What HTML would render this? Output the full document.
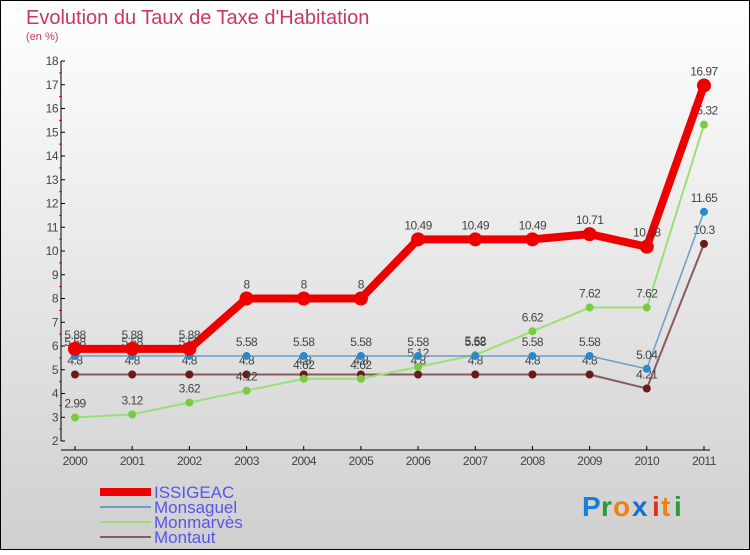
<!DOCTYPE html>
<html><head><meta charset="utf-8"><style>
html,body{margin:0;padding:0}
body{width:750px;height:550px;overflow:hidden;font-family:"Liberation Sans",sans-serif}
</style></head><body>
<svg id="c" width="750" height="550" xmlns="http://www.w3.org/2000/svg">
<defs><linearGradient id="bg" x1="0" y1="0" x2="0" y2="1"><stop offset="0" stop-color="#ffffff"/><stop offset="1" stop-color="#cfcfcf"/></linearGradient></defs>
<rect x="0.5" y="0.5" width="749" height="549" fill="url(#bg)" stroke="#000"/>
<text x="26" y="24" font-size="20" fill="#c8366a">Evolution du Taux de Taxe d'Habitation</text>
<text x="26" y="40" font-size="11" fill="#c8366a">(en %)</text>
<g id="axes"></g><g id="series"></g><g id="legend"></g>
<g font-size="28" font-weight="bold">
<text x="582" y="516" fill="#1a7fd4">P</text><text x="601" y="516" fill="#2a9a3a">r</text><text x="613" y="516" fill="#f08010">o</text><text x="632" y="516" fill="#1a6fd0">x</text><text x="652" y="516" fill="#e03020">i</text><text x="661" y="516" fill="#f08010">t</text><text x="674" y="516" fill="#2a9a3a">i</text>
</g>
</svg>
<script>
const years=[2000,2001,2002,2003,2004,2005,2006,2007,2008,2009,2010,2011];
const issigeac=[5.88,5.88,5.88,8,8,8,10.49,10.49,10.49,10.71,10.18,16.97];
const monsaguel=[5.58,5.58,5.58,5.58,5.58,5.58,5.58,5.58,5.58,5.58,5.04,11.65];
const monmarves=[2.99,3.12,3.62,4.12,4.62,4.62,5.12,5.62,6.62,7.62,7.62,15.32];
const montaut=[4.8,4.8,4.8,4.8,4.8,4.8,4.8,4.8,4.8,4.8,4.21,10.3];
const yTicks=[2,3,4,5,6,7,8,9,10,11,12,13,14,15,16,17,18];
const NS="http://www.w3.org/2000/svg";
const X=i=>75+i*57.18, Y=v=>441-(v-2)*23.75;
function mk(t,a,p){const e=document.createElementNS(NS,t);for(const k in a)e.setAttribute(k,a[k]);p.appendChild(e);return e;}
const ax=document.getElementById('axes');
let l=mk('line',{x1:61,y1:61,x2:61,y2:441,stroke:'#000'},ax);


l=mk('line',{x1:61,y1:450,x2:710,y2:450,stroke:'#000'},ax);


yTicks.forEach((v,i)=>{
  mk('line',{x1:61,y1:Y(v),x2:65,y2:Y(v),stroke:'#000'},ax);
  if(i<yTicks.length-1) mk('line',{x1:59,y1:Y(v+0.5),x2:62,y2:Y(v+0.5),stroke:'#e00'},ax);
  const t=mk('text',{x:58,y:Y(v)+4,'font-size':12,fill:'#444','text-anchor':'end','letter-spacing':'-0.5'},ax);
  t.textContent=v;
  
  
});
years.forEach((y,i)=>{
  mk('line',{x1:X(i),y1:446,x2:X(i),y2:450,stroke:'#000'},ax);
  const t=mk('text',{x:X(i),y:465,'font-size':12,fill:'#444','text-anchor':'middle','letter-spacing':'-0.5'},ax);
  t.textContent=y;
  
  
});
const sg=document.getElementById('series');
const defs=[
 {name:'montaut',d:montaut,c:'#8b5a5a',dot:'#6a1a1a',w:2,r:4},
 {name:'monmarves',d:monmarves,c:'#99e077',dot:'#77cc44',w:2,r:4},
 {name:'monsaguel',d:monsaguel,c:'#6a9ec4',dot:'#2a88cc',w:1.5,r:4},
 {name:'issigeac',d:issigeac,c:'#ee0000',dot:'#ee0000',w:8,r:7}];
defs.forEach(s=>{
  const g=mk('g',{},sg);
  
  
  const p=mk('polyline',{points:s.d.map((v,i)=>X(i)+','+Y(v)).join(' '),fill:'none',stroke:s.c,'stroke-width':s.w,'stroke-linejoin':'round'},g);
  
  
  s.d.forEach((v,i)=>{
    const c=mk('circle',{cx:X(i),cy:Y(v),r:s.r,fill:s.dot},g);
    
    
    const t=mk('text',{x:X(i),y:Y(v)-10,'font-size':12,fill:'#444','text-anchor':'middle','letter-spacing':'-0.5'},g);
    t.textContent=v;
    
    
  });
});
const lg=document.getElementById('legend');
const leg=[['ISSIGEAC','#ee0000',8],['Monsaguel','#6a9ec4',2],['Monmarvès','#99e077',2],['Montaut','#8b5a5a',2]];
leg.forEach((e,i)=>{
  const y=492+i*15;
  const g=mk('g',{},lg);
  
  
  mk('line',{x1:100,y1:y,x2:151,y2:y,stroke:e[1],'stroke-width':e[2]},g);
  const t=mk('text',{x:154,y:y+6,'font-size':17,fill:'#5555ee'},g);
  t.textContent=e[0];
});
</script>
</body></html>
